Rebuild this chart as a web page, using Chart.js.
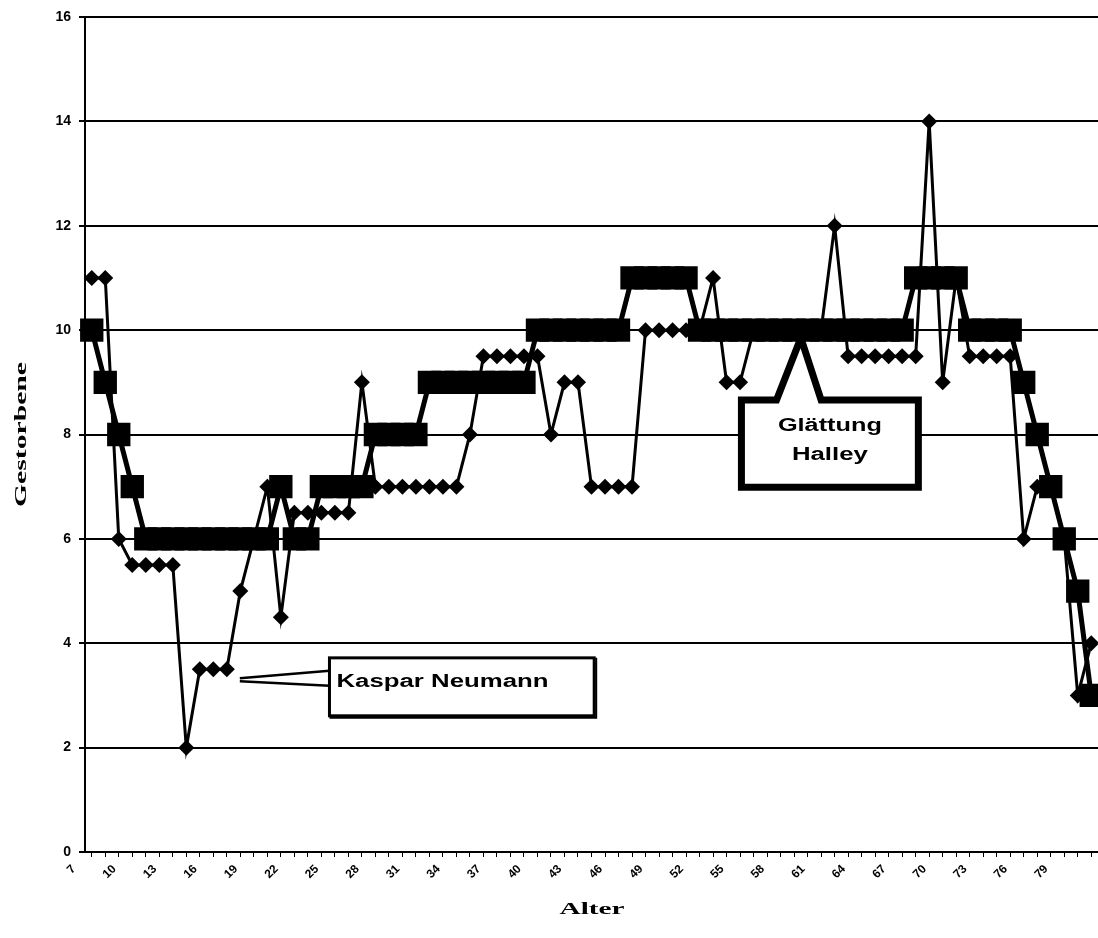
<!DOCTYPE html>
<html lang="de">
<head>
<meta charset="UTF-8">
<title>Gestorbene nach Alter</title>
<script src="https://cdn.jsdelivr.net/npm/chart.js"></script>
<style>
    html, body { margin: 0; padding: 0; background: #fff; overflow: hidden; }
    #wrap { width: 1098px; height: 938px; }
</style>
</head>
<body>
<div id="wrap"><canvas id="chart" width="1098" height="938"></canvas></div>
<script>
// Alter (Kategorien)
const ages = ["7","8","9","10","11","12","13","14","15","16","17","18","19","20","21","22","23","24","25","26",
              "27","28","29","30","31","32","33","34","35","36","37","38","39","40","41","42","43","44","45","46",
              "47","48","49","50","51","52","53","54","55","56","57","58","59","60","61","62","63","64","65","66",
              "67","68","69","70","71","72","73","74","75","76","77","78","79","80","81"];

// Gestorbene nach Kaspar Neumann
const neumann = [11, 11, 6, 5.5, 5.5, 5.5, 5.5, 2, 3.5, 3.5, 3.5, 5, 6, 7, 4.5, 6.5, 6.5, 6.5, 6.5, 6.5,
                 9, 7, 7, 7, 7, 7, 7, 7, 8, 9.5, 9.5, 9.5, 9.5, 9.5, 8, 9, 9, 7, 7, 7,
                 7, 10, 10, 10, 10, 10, 11, 9, 9, 10, 10, 10, 10, 10, 10, 12, 9.5, 9.5, 9.5, 9.5,
                 9.5, 9.5, 14, 9, 11, 9.5, 9.5, 9.5, 9.5, 6, 7, 7, 6, 3, 4];

// Glaettung nach Halley
const halley = [10, 9, 8, 7, 6, 6, 6, 6, 6, 6, 6, 6, 6, 6, 7, 6, 6, 7, 7, 7,
                7, 8, 8, 8, 8, 9, 9, 9, 9, 9, 9, 9, 9, 10, 10, 10, 10, 10, 10, 10,
                11, 11, 11, 11, 11, 10, 10, 10, 10, 10, 10, 10, 10, 10, 10, 10, 10, 10, 10, 10,
                10, 11, 11, 11, 11, 10, 10, 10, 10, 9, 8, 7, 6, 5, 3];

const yTicks = [0, 2, 4, 6, 8, 10, 12, 14, 16];
const xTitle = 'Alter';
const yTitle = 'Gestorbene';

// Beschriftungskaesten (Lage in Achsenwerten: Index / Gestorbene)
const kasparNote = { text: 'Kaspar Neumann', point: 10, left: 17.6, right: 37.2, top: 3.72, bottom: 2.61 };
const halleyNote = { lines: ['Glättung', 'Halley'], left: 48.1, right: 61.2, top: 8.66, bottom: 6.99,
                     tipX: 52.5, tipY: 9.85, baseL: 50.7, baseR: 54.0 };

function wideText(ctx, str, x, y, w, font, align) {
    ctx.font = font;
    const m = ctx.measureText(str).width;
    ctx.save();
    ctx.translate(x, y);
    ctx.scale(w / m, 1);
    ctx.textAlign = align;
    ctx.textBaseline = 'middle';
    ctx.fillText(str, 0, 0);
    ctx.restore();
}

const notesPlugin = {
    id: 'notes',
    afterDraw(chart) {
        const ctx = chart.ctx;
        const xs = chart.scales.x, ys = chart.scales.y;
        const area = chart.chartArea;
        const px = v => xs.getPixelForValue(v);
        const py = v => ys.getPixelForValue(v);
        ctx.save();
        ctx.strokeStyle = '#000';
        ctx.fillStyle = '#000';

        // Achsentitel
        wideText(ctx, xTitle, 592, 910, 65, 'bold 17px "Liberation Serif"', 'center');
        ctx.save();
        ctx.translate(22, (area.top + area.bottom) / 2);
        ctx.rotate(-Math.PI / 2);
        wideText(ctx, yTitle, 0, 0, 145, 'bold 16px "Liberation Serif"', 'center');
        ctx.restore();

        // Kaspar Neumann
        const k = kasparNote;
        let l = px(k.left), r = px(k.right), t = py(k.top), b = py(k.bottom);
        const pt = chart.getDatasetMeta(1).data[k.point];
        ctx.lineWidth = 2.5;
        ctx.beginPath();
        ctx.moveTo(pt.x + 13, pt.y + 9);
        ctx.lineTo(l, t + 13);
        ctx.moveTo(pt.x + 13, pt.y + 12);
        ctx.lineTo(l, t + 28);
        ctx.stroke();
        ctx.fillStyle = '#fff';
        ctx.fillRect(l, t, r - l, b - t);
        ctx.lineWidth = 3;
        ctx.strokeRect(l, t, r - l, b - t);
        ctx.lineWidth = 2;
        ctx.beginPath();
        ctx.moveTo(r + 2, t); ctx.lineTo(r + 2, b + 2); ctx.lineTo(l, b + 2);
        ctx.stroke();
        ctx.fillStyle = '#000';
        wideText(ctx, k.text, l + 7, (t + b) / 2 - 5, 212, 'bold 18px Arial', 'left');

        // Glaettung Halley
        const h = halleyNote;
        l = px(h.left); r = px(h.right); t = py(h.top); b = py(h.bottom);
        const tx = px(h.tipX), ty = py(h.tipY), bl = px(h.baseL), br = px(h.baseR);
        ctx.beginPath();
        ctx.moveTo(l, t);
        ctx.lineTo(bl, t);
        ctx.lineTo(tx, ty);
        ctx.lineTo(br, t);
        ctx.lineTo(r, t);
        ctx.lineTo(r, b);
        ctx.lineTo(l, b);
        ctx.closePath();
        ctx.fillStyle = '#fff';
        ctx.fill();
        ctx.lineWidth = 7;
        ctx.lineJoin = 'miter';
        ctx.stroke();
        ctx.fillStyle = '#000';
        const cx = (l + r) / 2;
        wideText(ctx, h.lines[0], cx, t + 26, 104, 'bold 18px Arial', 'center');
        wideText(ctx, h.lines[1], cx, t + 55, 76, 'bold 18px Arial', 'center');
        ctx.restore();
    }
};

new Chart(document.getElementById('chart'), {
    type: 'line',
    data: {
        labels: ages,
        datasets: [
            {
                label: 'Glättung Halley',
                data: halley,
                borderColor: '#000',
                backgroundColor: '#000',
                borderWidth: 5,
                pointStyle: 'rect',
                pointRadius: 16.5,
                pointBorderWidth: 0,
                tension: 0,
                order: 0
            },
            {
                label: 'Kaspar Neumann',
                data: neumann,
                borderColor: '#000',
                backgroundColor: '#000',
                borderWidth: 3,
                pointStyle: 'rectRot',
                pointRadius: 8,
                pointBorderWidth: 0,
                tension: 0,
                order: 1
            }
        ]
    },
    options: {
        responsive: false,
        animation: false,
        devicePixelRatio: 1,
        layout: { autoPadding: false, padding: { top: 17, right: 0, left: 0, bottom: 0 } },
        plugins: {
            legend: { display: false },
            tooltip: { enabled: false }
        },
        scales: {
            x: {
                offset: true,
                grid: { drawOnChartArea: false, tickLength: 5, color: '#000', lineWidth: 1 },
                border: { color: '#000', width: 2 },
                ticks: {
                    autoSkip: false,
                    minRotation: 45,
                    maxRotation: 45,
                    padding: 5,
                    labelOffset: -18,
                    color: '#000',
                    font: { family: 'Arial', size: 12, weight: 'bold' },
                    callback: function (val, i) { return i % 3 === 0 ? this.getLabelForValue(val) : ''; }
                },
                title: { display: false, text: xTitle },
                afterFit(scale) {
                    scale.height = 86;
                    scale.paddingLeft = 0;
                    scale.paddingRight = 0;
                }
            },
            y: {
                min: 0,
                max: 16,
                afterBuildTicks(scale) { scale.ticks = yTicks.map(v => ({ value: v })); },
                grid: { color: '#000', lineWidth: 2, tickLength: 6 },
                border: { color: '#000', width: 2 },
                ticks: { padding: 8, color: '#000', font: { family: 'Arial', size: 14, weight: 'bold' } },
                title: { display: false, text: yTitle },
                afterFit(scale) { scale.width = 85; }
            }
        }
    },
    plugins: [notesPlugin]
});
</script>
</body>
</html>
